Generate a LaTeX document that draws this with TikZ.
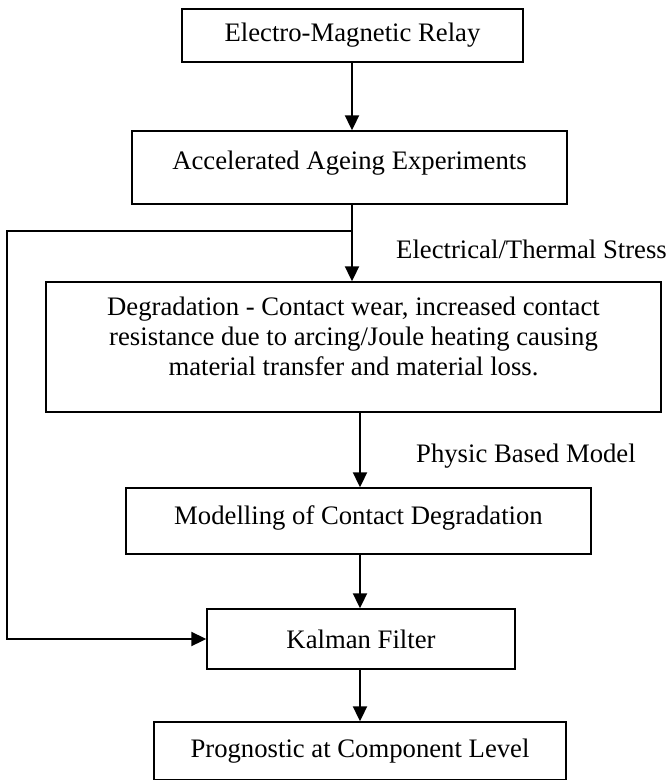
\documentclass[tikz,border=0pt]{standalone}
\usepackage{fontspec}
\setmainfont{Liberation Serif}
\usetikzlibrary{arrows.meta}

% strut that pushes the text up inside a tall box
\newcommand{\lowpad}[1]{\rule[-#1]{0pt}{#1}}

\begin{document}
\begin{tikzpicture}[x=1pt, y=1pt, font=\fontsize{26.7}{30}\selectfont,
  box/.style = {draw, line width=1.4pt, inner sep=0pt, minimum width=#1},
  note/.style = {anchor=base west, inner sep=0pt},
  flow/.style = {line width=2pt, -{Triangle[length=15pt, width=14pt]}}]

\useasboundingbox (0,0) rectangle (669,-780);

% Boxes
\node[box=341pt, minimum height=53pt] (relay) at (352.5,-35.5) {Electro-Magnetic Relay};
\node[box=435pt, minimum height=73pt] (ageing) at (349.5,-167.5) {Accelerated Ageing Experiments\lowpad{13.6pt}};
\node[box=615pt, minimum height=130pt, align=center] (degr) at (353.5,-347)
  {Degradation - Contact wear, increased contact\\ resistance due to arcing/Joule heating causing\\ material transfer and material loss.\lowpad{20.6pt}};
\node[box=465pt, minimum height=66pt] (model) at (358.5,-521) {Modelling of Contact Degradation\lowpad{12.6pt}};
\node[box=308pt, minimum height=60pt] (kalman) at (361,-639) {Kalman Filter};
\node[box=412pt, minimum height=58pt] (prog) at (360,-751) {Prognostic at Component Level};

% Labels
\node[note] (stress) at (396,-258) {Electrical/Thermal Stress};
\node[note] (physic) at (416,-462) {Physic Based Model};

% Connectors
\coordinate (split) at (352,-231);
\coordinate (bend) at (7,-231);
\coordinate (lower) at (360,0);

\draw[flow] (relay.south -| split) -- (ageing.north -| split);
\draw[line width=2pt] (ageing.south -| split) -- (split);
\draw[flow] (split) -- (degr.north -| split);
\draw[flow] (split) -- (bend) |- (kalman.west);

\draw[flow] (degr.south -| lower) -- (model.north -| lower);
\draw[flow] (model.south -| lower) -- (kalman.north -| lower);
\draw[flow] (kalman.south -| lower) -- (prog.north -| lower);

\end{tikzpicture}
\end{document}
